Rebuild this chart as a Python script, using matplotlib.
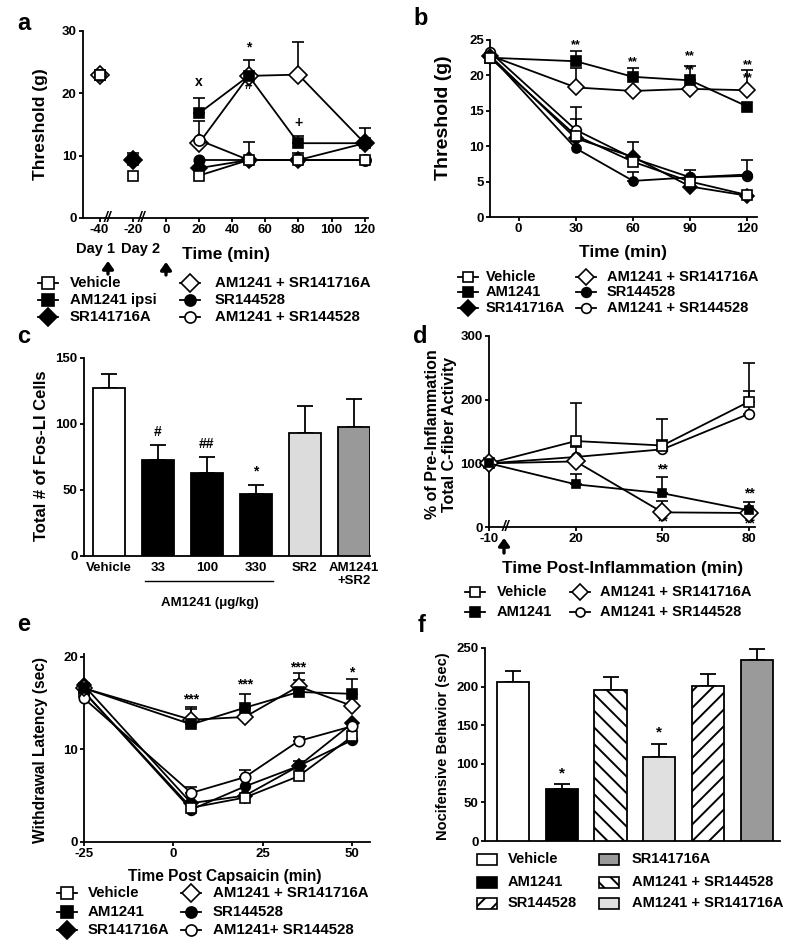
import numpy as np
import matplotlib
matplotlib.use('Agg')
import matplotlib.pyplot as plt
from matplotlib.lines import Line2D
from matplotlib.patches import Rectangle, FancyArrowPatch

plt.rcParams['font.family'] = ['Liberation Sans', 'DejaVu Sans']
plt.rcParams['font.weight'] = 'bold'
plt.rcParams['axes.labelweight'] = 'bold'
plt.rcParams['hatch.linewidth'] = 1.4
plt.rcParams['axes.linewidth'] = 1.3
plt.rcParams['axes.unicode_minus'] = False

# ======================= DATA =======================
# ---- panel a : threshold (g) vs time
a_x = [-40, -20, 20, 50, 80, 120]
a_xticks = [-40, -20, 0, 20, 40, 60, 80, 100, 120]
a_vehicle = [23.0, 6.8, 6.8, 9.3, 9.3, 9.3]
a_vehicle_err = [0.6, 0, 0, 2.9, 1.2, 0]
a_am1241 = [23.0, 9.3, 16.8, 22.8, 12.0, 12.0]
a_am1241_err = [0, 0, 2.5, 2.5, 1.2, 0]
a_sr1 = [23.0, 9.3, 8.0, 9.3, 9.3, 12.0]
a_sr1_err = [0, 1.2, 0, 0, 0, 2.5]
a_am_sr1 = [23.0, 9.3, 12.0, 22.8, 23.0, 12.0]
a_am_sr1_err = [0, 0, 0, 0, 5.3, 0]
a_sr2 = [23.0, 9.3, 9.3, 9.3, 9.3, 9.3]
a_sr2_err = [0, 0, 0, 0, 0, 0]
a_am_sr2 = [23.0, 9.3, 12.5, 9.3, 9.3, 9.3]
a_am_sr2_err = [0, 0, 3.0, 0, 0, 0]
a_marks = ['x', '*', '#', '+']
a_marks_x = [20, 50, 50, 80]
a_marks_y = [21.8, 27.4, 21.3, 15.2]
a_legend = ['Vehicle', 'AM1241 ipsi', 'SR141716A',
            'AM1241 + SR141716A', 'SR144528', 'AM1241 + SR144528']

# ---- panel b
b_x = [-15, 30, 60, 90, 120]
b_xticks = [0, 30, 60, 90, 120]
b_vehicle = [22.5, 11.5, 7.8, 5.0, 3.1]
b_vehicle_err = [0, 2.3, 0, 0, 0]
b_am1241 = [22.5, 22.0, 19.8, 19.3, 15.6]
b_am1241_err = [0, 1.4, 1.2, 2.0, 0]
b_sr1 = [22.8, 11.1, 8.5, 4.3, 3.0]
b_sr1_err = [0, 0, 2.1, 0, 0]
b_am_sr1 = [22.8, 18.3, 17.8, 18.1, 17.9]
b_am_sr1_err = [0, 2.7, 0, 0, 2.8]
b_sr2 = [22.8, 9.7, 5.1, 5.6, 6.0]
b_sr2_err = [0, 0, 1.3, 0, 2.1]
b_am_sr2 = [23.3, 12.3, 8.3, 5.6, 5.8]
b_am_sr2_err = [0, 3.2, 0, 1.1, 0]
b_marks_x = [30, 60, 90, 120, 120, 30, 60, 90]
b_marks_y = [24.3, 21.9, 22.7, 21.5, 19.6, 21.1, 19.1, 20.8]
b_legend = ['Vehicle', 'AM1241', 'SR141716A',
            'AM1241 + SR141716A', 'SR144528', 'AM1241 + SR144528']

# ---- panel c
c_labels = ['Vehicle', '33', '100', '330', 'SR2', 'AM1241\n+SR2']
c_values = [127, 73, 63, 47, 93, 98]
c_err = [11, 11, 12, 7, 21, 21]
c_marks = ['', '#', '##', '*', '', '']

# ---- panel d
d_x = [-10, 20, 50, 80]
d_xticks = [-10, 20, 50, 80]
d_vehicle = [100, 135, 128, 197]
d_vehicle_err = [0, 60, 42, 60]
d_am1241 = [100, 67, 53, 26]
d_am1241_err = [0, 16, 26, 14]
d_am_sr1 = [100, 103, 23, 22]
d_am_sr1_err = [0, 0, 18, 0]
d_am_sr2 = [100, 110, 122, 178]
d_am_sr2_err = [0, 15, 15, 35]
d_marks = ['*', '**', '**', '**', '**']
d_marks_x = [20, 50, 50, 80, 80]
d_marks_y = [92, 90, 9, 52, 6]
d_legend = ['Vehicle', 'AM1241', 'AM1241 + SR141716A', 'AM1241 + SR144528']

# ---- panel e
e_x = [-25, 5, 20, 35, 50]
e_xticks = [-25, 0, 25, 50]
e_vehicle = [16.2, 3.7, 4.8, 7.1, 11.4]
e_vehicle_err = [0, 0, 0, 0, 0]
e_am1241 = [16.6, 12.7, 14.5, 16.2, 16.0]
e_am1241_err = [0, 1.9, 1.5, 1.3, 1.6]
e_sr1 = [16.9, 4.2, 5.0, 8.2, 12.8]
e_sr1_err = [0, 0, 0, 0.5, 0]
e_am_sr1 = [16.6, 13.2, 13.5, 16.8, 14.7]
e_am_sr1_err = [0, 1.2, 0, 1.4, 0]
e_sr2 = [16.2, 3.5, 6.0, 8.2, 11.0]
e_sr2_err = [0, 0, 0, 0, 0]
e_am_sr2 = [15.5, 5.3, 7.0, 10.9, 12.5]
e_am_sr2_err = [0, 0.6, 0.8, 0.4, 0]
e_marks = ['***', '***', '***', '*']
e_marks_x = [5, 20, 35, 50]
e_marks_y = [15.4, 17.0, 18.8, 18.3]
e_legend = ['Vehicle', 'AM1241', 'SR141716A',
            'AM1241 + SR141716A', 'SR144528', 'AM1241+ SR144528']

# ---- panel f
f_groups = ['Vehicle', 'AM1241', 'AM1241 + SR144528', 'AM1241 + SR141716A',
            'SR144528', 'SR141716A']
f_values = [206, 67, 195, 109, 201, 235]
f_err = [14, 7, 18, 17, 15, 14]
f_marks = ['', '*', '', '*', '', '']

# ======================= FIGURE =======================
W, H = 800, 950
fig = plt.figure(figsize=(W / 100, H / 100), dpi=100)


def fx(x):
    return x / W


def fy(y):
    return 1 - y / H


def make_ax(box):
    l, r, t, b = box
    ax = fig.add_axes([fx(l), fy(b), (r - l) / W, (b - t) / H])
    ax.spines['top'].set_visible(False)
    ax.spines['right'].set_visible(False)
    ax.tick_params(direction='out', length=3, width=1.3, labelsize=9.5, pad=1.5)
    return ax


def set_labels(ax, box, xlabel=None, xpos=None, xfs=12, ylabel=None, ypos=None, yfs=12):
    l, r, t, b = box
    if xlabel:
        ax.set_xlabel(xlabel, fontsize=xfs, va='center', ha='center')
        ax.xaxis.set_label_coords((xpos[0] - l) / (r - l), (b - xpos[1]) / (b - t))
    if ylabel:
        ax.set_ylabel(ylabel, fontsize=yfs, va='center', ha='center', linespacing=1.1)
        ax.yaxis.set_label_coords((ypos[0] - l) / (r - l), (b - ypos[1]) / (b - t))


def series(ax, x, y, err, marker, filled, ms=7, z=3, start=0):
    """Points before index `start` are drawn unconnected (open markers on top at first point)."""
    fc = 'black' if filled else 'white'
    kw = dict(color='black', lw=1.3, marker=marker, ms=ms, mfc=fc, mec='black',
              mew=1.2, clip_on=False)
    for i in range(start):
        zi = z + (3 if (i == 0 and not filled) else 0)
        ax.plot([x[i]], [y[i]], ls='none', zorder=zi, **kw)
    ax.plot(x[start:], y[start:], zorder=z, **kw)
    idx = [i for i, e in enumerate(err) if e > 0]
    if idx:
        ax.errorbar([x[i] for i in idx], [y[i] for i in idx],
                    yerr=[[0] * len(idx), [err[i] for i in idx]], fmt='none',
                    ecolor='black', elinewidth=1.2, capsize=4, capthick=1.2,
                    zorder=2, clip_on=False)


def leg_line(xm, y, tx, label, marker, filled, ms=7, fs=10.5):
    fig.add_artist(Line2D([fx(xm - 10), fx(xm + 10)], [fy(y), fy(y)],
                          transform=fig.transFigure, color='black', lw=1.3))
    fig.add_artist(Line2D([fx(xm)], [fy(y)], transform=fig.transFigure, ls='none',
                          marker=marker, ms=ms, mfc='black' if filled else 'white',
                          mec='black', mew=1.2))
    fig.text(fx(tx), fy(y), label, fontsize=fs, fontweight='bold', va='center', ha='left')


def leg_patch(x0, y, tx, label, color, hatch=None, fs=10.5):
    fig.add_artist(Rectangle((fx(x0), fy(y + 5.5)), 20 / W, 11 / H, transform=fig.transFigure,
                             facecolor=color, edgecolor='black', lw=1.2, hatch=hatch))
    fig.text(fx(tx), fy(y), label, fontsize=fs, fontweight='bold', va='center', ha='left')


def arrow(x, y_tip, y_tail):
    fig.add_artist(FancyArrowPatch(
        (fx(x), fy(y_tail)), (fx(x), fy(y_tip)), transform=fig.transFigure,
        arrowstyle='-|>,head_width=3.2,head_length=4.5', lw=2.4, color='black',
        mutation_scale=1, shrinkA=0, shrinkB=0))


styles = [('s', False), ('s', True), ('D', True), ('D', False), ('o', True), ('o', False)]

# ---------------- panel a ----------------
box_a = (83, 368, 31, 218)
ax = make_ax(box_a)
ax.set_xlim(-50, 122)
ax.set_ylim(0, 30)
ax.set_xticks(a_xticks)
ax.set_yticks([0, 10, 20, 30])
series(ax, a_x, a_am_sr1, a_am_sr1_err, 'D', False, ms=9, start=2)
series(ax, a_x, a_am_sr2, a_am_sr2_err, 'o', False, ms=8, start=2)
series(ax, a_x, a_sr2, a_sr2_err, 'o', True, ms=7.5, start=2)
series(ax, a_x, a_am1241, a_am1241_err, 's', True, ms=7.5, start=2)
series(ax, a_x, a_sr1, a_sr1_err, 'D', True, ms=8.5, start=2)
series(ax, a_x, a_vehicle, a_vehicle_err, 's', False, ms=7.5, start=2)
for s, x, y in zip(a_marks, a_marks_x, a_marks_y):
    ax.text(x, y, s, ha='center', va='center', fontsize=10, zorder=1)
for xb in [-35, -15]:
    ax.text(xb, 0, '//', transform=ax.get_xaxis_transform(), ha='center', va='center',
            fontsize=10, fontstyle='italic', zorder=6)
set_labels(ax, box_a, 'Time (min)', (226, 255), 12.5, 'Threshold (g)', (41, 124), 12.5)
fig.text(fx(96), fy(249), 'Day 1', fontsize=10.5, ha='center', va='center')
fig.text(fx(141), fy(249), 'Day 2', fontsize=10.5, ha='center', va='center')
arrow(108, 261, 274)
arrow(166, 262, 275)
fig.text(fx(17), fy(30), 'a', fontsize=17, fontweight='bold', va='baseline')
for i, (lab, (m, f)) in enumerate(zip(a_legend, styles)):
    col, row = divmod(i, 3)
    xm = [48, 190][col]
    tx = [70, 215][col]
    y = [283, 300, 317][row]
    leg_line(xm, y, tx, lab, m, f, ms=8 if m != 'D' else 9, fs=10.8)

# ---------------- panel b ----------------
box_b = (490, 757, 40, 217)
ax = make_ax(box_b)
ax.set_xlim(-15, 125)
ax.set_ylim(0, 25)
ax.set_xticks(b_xticks)
ax.set_yticks([0, 5, 10, 15, 20, 25])
for s_x, s_y in zip(b_marks_x, b_marks_y):
    ax.text(s_x, s_y, '**', ha='center', va='center', fontsize=9, zorder=1)
series(ax, b_x, b_am_sr1, b_am_sr1_err, 'D', False, ms=8)
series(ax, b_x, b_am_sr2, b_am_sr2_err, 'o', False, ms=7)
series(ax, b_x, b_sr2, b_sr2_err, 'o', True, ms=6.5)
series(ax, b_x, b_sr1, b_sr1_err, 'D', True, ms=7)
series(ax, b_x, b_am1241, b_am1241_err, 's', True, ms=7)
series(ax, b_x, b_vehicle, b_vehicle_err, 's', False, ms=7)
set_labels(ax, box_b, 'Time (min)', (623, 253), 12.5, 'Threshold (g)', (443, 118), 14)
fig.text(fx(413), fy(25), 'b', fontsize=17, fontweight='bold', va='baseline')
for i, (lab, (m, f)) in enumerate(zip(b_legend, styles)):
    col, row = divmod(i, 3)
    xm = [468, 586][col]
    tx = [486, 607][col]
    y = [277, 292, 308][row]
    leg_line(xm, y, tx, lab, m, f, ms=7 if m != 'D' else 8, fs=10.5)

# ---------------- panel c ----------------
box_c = (84, 370, 358, 556)
ax = make_ax(box_c)
c_colors = ['white', 'black', 'black', 'black', '#dcdcdc', '#999999']
xc = np.arange(len(c_values))
ax.bar(xc, c_values, width=0.66, color=c_colors, edgecolor='black', lw=1.3, zorder=3)
ax.errorbar(xc, c_values, yerr=[[0] * len(c_err), c_err], fmt='none', ecolor='black',
            elinewidth=1.3, capsize=6, capthick=1.3, zorder=2)
for xi, v, e, s in zip(xc, c_values, c_err, c_marks):
    if s:
        ax.text(xi, v + e + 10, s, ha='center', va='center', fontsize=10)
ax.set_xlim(-0.51, 5.33)
ax.set_ylim(0, 150)
ax.set_yticks([0, 50, 100, 150])
ax.set_xticks(xc)
ax.set_xticklabels(c_labels, fontsize=9.5)
ax.tick_params(axis='x', length=0, pad=4)
set_labels(ax, box_c, ylabel='Total # of Fos-LI Cells', ypos=(42, 456), yfs=12)
ax.plot([0.73, 3.35], [-0.126, -0.126], transform=ax.get_xaxis_transform(), color='black',
        lw=1.0, clip_on=False)
ax.text(2.05, -0.237, 'AM1241 (\u03bcg/kg)', transform=ax.get_xaxis_transform(),
        ha='center', va='center', fontsize=9.5)
fig.text(fx(17), fy(343), 'c', fontsize=17, fontweight='bold', va='baseline')

# ---------------- panel d ----------------
box_d = (489, 755, 336, 527)
ax = make_ax(box_d)
ax.set_xlim(-10, 82)
ax.set_ylim(0, 300)
ax.set_xticks(d_xticks)
ax.set_yticks([0, 100, 200, 300])
for s, x, y in zip(d_marks, d_marks_x, d_marks_y):
    ax.text(x, y, s, ha='center', va='center', fontsize=10, zorder=1)
series(ax, d_x, d_am_sr2, d_am_sr2_err, 'o', False, ms=7)
series(ax, d_x, d_vehicle, d_vehicle_err, 's', False, ms=6.5)
series(ax, d_x, d_am_sr1, d_am_sr1_err, 'D', False, ms=9)
series(ax, d_x, d_am1241, d_am1241_err, 's', True, ms=5.5)
ax.text(-4.5, 0, '//', transform=ax.get_xaxis_transform(), ha='center', va='center',
        fontsize=10, fontstyle='italic', zorder=6)
set_labels(ax, box_d, 'Time Post-Inflammation (min)', (623, 568), 12.3,
           '% of Pre-Inflammation\nTotal C-fiber Activity', (441, 434), 11.5)
arrow(504, 538, 553)
fig.text(fx(413), fy(343), 'd', fontsize=17, fontweight='bold', va='baseline')
d_styles = [('s', False), ('s', True), ('D', False), ('o', False)]
for i, (lab, (m, f)) in enumerate(zip(d_legend, d_styles)):
    col, row = divmod(i, 2)
    xm = [475, 580][col]
    tx = [497, 600][col]
    y = [592, 612][row]
    leg_line(xm, y, tx, lab, m, f, ms=6.5 if m != 'D' else 8.5, fs=10.5)

# ---------------- panel e ----------------
box_e = (84, 370, 654, 842)
ax = make_ax(box_e)
ax.set_xlim(-25, 55)
ax.set_ylim(0, 20.3)
ax.set_xticks(e_xticks)
ax.set_yticks([0, 10, 20])
for s, x, y in zip(e_marks, e_marks_x, e_marks_y):
    ax.text(x, y, s, ha='center', va='center', fontsize=10, zorder=1)
series(ax, e_x, e_sr2, e_sr2_err, 'o', True, ms=7)
series(ax, e_x, e_sr1, e_sr1_err, 'D', True, ms=7.5)
series(ax, e_x, e_vehicle, e_vehicle_err, 's', False, ms=7.5)
series(ax, e_x, e_am_sr2, e_am_sr2_err, 'o', False, ms=7.5)
series(ax, e_x, e_am_sr1, e_am_sr1_err, 'D', False, ms=8.5)
series(ax, e_x, e_am1241, e_am1241_err, 's', True, ms=7.5)
set_labels(ax, box_e, 'Time Post Capsaicin (min)', (225, 877), 11.2,
           'Withdrawal Latency (sec)', (41, 750), 11.2)
fig.text(fx(17), fy(631), 'e', fontsize=17, fontweight='bold', va='baseline')
for i, (lab, (m, f)) in enumerate(zip(e_legend, styles)):
    col, row = divmod(i, 3)
    xm = [67, 191][col]
    tx = [88, 213][col]
    y = [893, 912, 930][row]
    leg_line(xm, y, tx, lab, m, f, ms=8 if m != 'D' else 9, fs=10.8)

# ---------------- panel f ----------------
box_f = (485, 780, 648, 841)
ax = make_ax(box_f)
f_colors = ['white', 'black', 'white', '#e0e0e0', 'white', '#9a9a9a']
f_hatches = [None, None, '\\\\', None, '//', None]
xf = np.arange(len(f_values))
bars = ax.bar(xf, f_values, width=0.66, color=f_colors, edgecolor='black', lw=1.3, zorder=3)
for b_, h in zip(bars, f_hatches):
    if h:
        b_.set_hatch(h)
ax.errorbar(xf, f_values, yerr=[[0] * len(f_err), f_err], fmt='none', ecolor='black',
            elinewidth=1.3, capsize=6, capthick=1.3, zorder=2)
for xi, v, e, s in zip(xf, f_values, f_err, f_marks):
    if s:
        ax.text(xi, v + e + 14, s, ha='center', va='center', fontsize=11)
ax.set_xlim(-0.57, 5.47)
ax.set_ylim(0, 250)
ax.set_yticks([0, 50, 100, 150, 200, 250])
ax.set_xticks([])
set_labels(ax, box_f, ylabel='Nocifensive Behavior (sec)', ypos=(443, 746), yfs=10.5)
fig.text(fx(418), fy(632), 'f', fontsize=17, fontweight='bold', va='baseline')
f_leg_order = [0, 1, 4, 5, 2, 3]
for k, gi in enumerate(f_leg_order):
    col, row = divmod(k, 3)
    x0 = [477, 599][col]
    tx = [508, 632][col]
    y = [859, 882, 903][row]
    leg_patch(x0, y, tx, f_groups[gi], f_colors[gi], f_hatches[gi], fs=10.5)

fig.savefig('out.png', dpi=100, facecolor='white')
